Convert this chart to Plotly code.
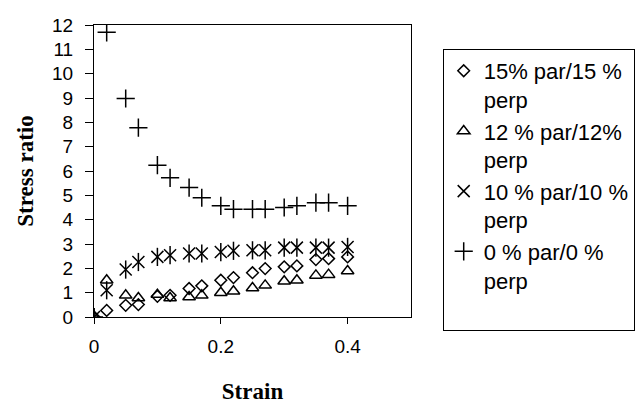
import plotly.graph_objects as go

strain = [0, 0.02, 0.05, 0.07, 0.10, 0.12, 0.15, 0.17, 0.20, 0.22, 0.25, 0.27, 0.30, 0.32, 0.35, 0.37, 0.40]

ratio_15 = [0, 0.27, 0.48, 0.51, 0.85, 0.89, 1.17, 1.28, 1.51, 1.62, 1.82, 1.99, 2.06, 2.10, 2.36, 2.40, 2.47]
ratio_12 = [0, 1.51, 0.89, 0.78, 0.92, 0.78, 0.82, 0.89, 1.00, 1.06, 1.19, 1.30, 1.47, 1.51, 1.71, 1.74, 1.89]
ratio_10 = [0, 1.10, 1.95, 2.26, 2.47, 2.54, 2.61, 2.61, 2.67, 2.72, 2.74, 2.74, 2.85, 2.85, 2.85, 2.85, 2.88]
ratio_0 = [0, 11.70, 8.98, 7.78, 6.24, 5.72, 5.32, 4.90, 4.57, 4.43, 4.43, 4.43, 4.50, 4.57, 4.70, 4.70, 4.57]

names = ["15% par/15 %<br>perp", "12 % par/12%<br>perp", "10 % par/10 %<br>perp", "0 % par/0 %<br>perp<br> "]

x_ticks = [0, 0.2, 0.4]
x_labels = ["0", "0.2", "0.4"]
y_ticks = list(range(0, 13))

fig = go.Figure()
fig.add_trace(go.Scatter(x=strain, y=ratio_15, mode="markers", name=names[0],
                         marker=dict(symbol="diamond-open", size=9, color="black", line=dict(width=1.5, color="black"))))
fig.add_trace(go.Scatter(x=strain, y=ratio_12, mode="markers", name=names[1],
                         marker=dict(symbol="triangle-up-open", size=11, color="black", line=dict(width=1.5, color="black"))))
fig.add_trace(go.Scatter(x=strain, y=ratio_10, mode="markers", name=names[2], legendgroup="g10",
                         marker=dict(symbol="x-thin-open", size=12, color="black", line=dict(width=1.5, color="black"))))
fig.add_trace(go.Scatter(x=strain, y=ratio_10, mode="markers", name=names[2], legendgroup="g10", showlegend=False,
                         marker=dict(symbol="line-ns-open", size=13, color="black", line=dict(width=1.5, color="black"))))
fig.add_trace(go.Scatter(x=strain, y=ratio_0, mode="markers", name=names[3],
                         marker=dict(symbol="cross-thin-open", size=13, color="black", line=dict(width=1.5, color="black"))))

fig.update_layout(
    width=640, height=404,
    margin=dict(l=93.5, r=229, t=25, b=87, autoexpand=False),
    paper_bgcolor="white", plot_bgcolor="white",
    font=dict(family="Liberation Sans, Arial, sans-serif", size=19, color="black"),
    showlegend=True,
    legend=dict(x=1.10, y=0.918, xanchor="left", yanchor="top",
                bordercolor="black", borderwidth=1, bgcolor="white",
                font=dict(size=22, family="Liberation Sans, Arial, sans-serif"),
                valign="top", itemsizing="trace", tracegroupgap=0, itemwidth=30),
)
fig.update_xaxes(range=[0, 0.5], tickvals=x_ticks, ticktext=x_labels,
                 ticks="outside", ticklen=6, tickcolor="black", showline=True, linecolor="black",
                 linewidth=1, mirror=True, showgrid=False, zeroline=False, ticklabelstandoff=6,
                 title=dict(text="<b>Strain</b>", font=dict(family="Liberation Serif, Times New Roman, serif", size=23), standoff=29))
fig.update_yaxes(range=[0, 12], tickvals=y_ticks,
                 ticks="outside", ticklen=8, tickcolor="black", showline=True, linecolor="black",
                 linewidth=1, mirror=True, showgrid=False, zeroline=False, ticklabelstandoff=8,
                 title=dict(text="<b>Stress ratio</b>", font=dict(family="Liberation Serif, Times New Roman, serif", size=23), standoff=12))

fig.write_html("out.html", config={"displayModeBar": False})

with open("out.html", "r", encoding="utf-8") as f:
    html = f.read()
html = html.replace("<body>", "<body style=\"margin:0;padding:0;\">", 1)
with open("out.html", "w", encoding="utf-8") as f:
    f.write(html)
